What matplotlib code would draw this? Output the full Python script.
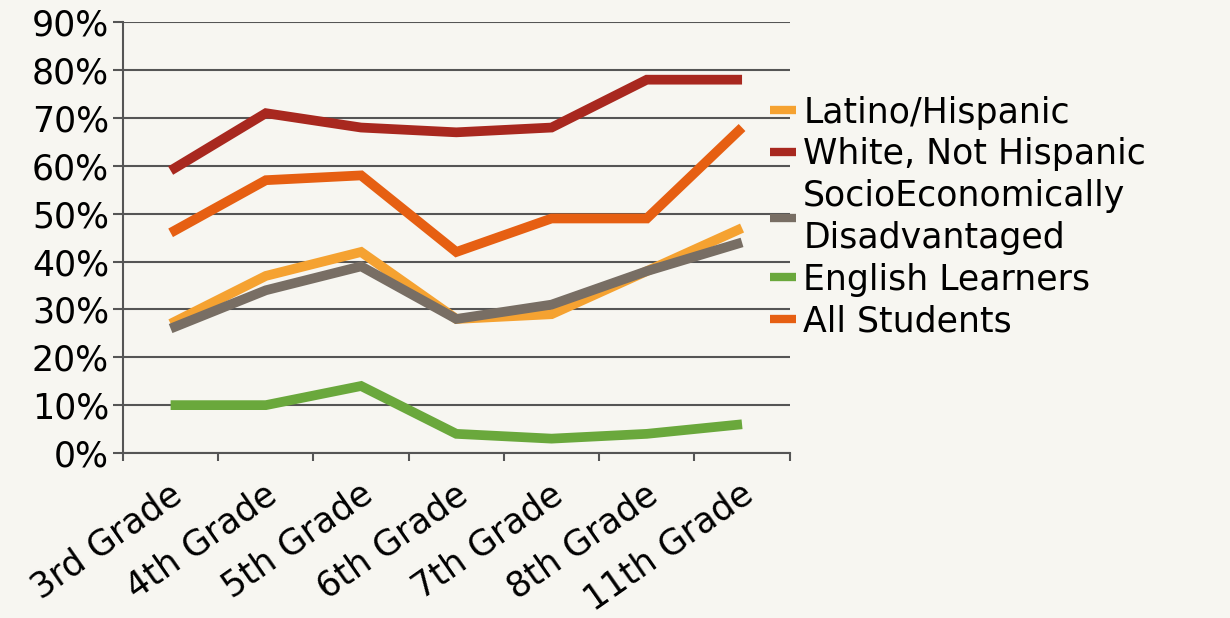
import numpy as np
import matplotlib
matplotlib.use('Agg')
import matplotlib.pyplot as plt
import matplotlib.transforms as mtransforms
from matplotlib.ticker import FixedLocator, PercentFormatter

grades = ['3rd Grade', '4th Grade', '5th Grade', '6th Grade', '7th Grade', '8th Grade', '11th Grade']

latino = [27, 37, 42, 28, 29, 38, 47]
white = [59, 71, 68, 67, 68, 78, 78]
socio = [26, 34, 39, 28, 31, 38, 44]
english = [10, 10, 14, 4, 3, 4, 6]
all_students = [46, 57, 58, 42, 49, 49, 68]

labels = ['Latino/Hispanic', 'White, Not Hispanic', 'SocioEconomically\nDisadvantaged',
          'English Learners', 'All Students']
colors = ['#f5a231', '#a8281f', '#786e64', '#6aa83c', '#e65f12']

bg = '#f7f6f1'
grid_col = '#555555'
plt.rcParams['font.family'] = ['DejaVu Sans']

fig = plt.figure(figsize=(12.3, 6.18), dpi=100)
fig.patch.set_facecolor(bg)
ax = fig.add_axes([0.1, 0.267, 0.542, 0.697])
ax.set_facecolor(bg)

x = np.arange(len(grades))
for vals, lab, col in zip([latino, white, socio, english, all_students], labels, colors):
    ax.plot(x, vals, color=col, lw=7, label=lab, solid_joinstyle='miter', solid_capstyle='butt', zorder=3)

ax.set_xlim(-0.5, len(grades) - 0.5)
ax.set_ylim(0, 90)
ax.set_yticks(np.arange(0, 91, 10))
ax.yaxis.set_major_formatter(PercentFormatter(decimals=0))
ax.grid(axis='y', color=grid_col, lw=1.5, zorder=1)

for s in ['top', 'right']:
    ax.spines[s].set_visible(False)
for s in ['left', 'bottom']:
    ax.spines[s].set_color(grid_col)
    ax.spines[s].set_linewidth(1.5)

# category labels sit at the centres, tick marks between categories
ax.set_xticks(x)
ax.set_xticklabels(grades, rotation=35, ha='right', rotation_mode='anchor')
ax.xaxis.set_minor_locator(FixedLocator(np.arange(-0.5, len(grades), 1)))
ax.tick_params(axis='x', which='major', length=0, pad=20, labelsize=25)
ax.tick_params(axis='x', which='minor', length=6, width=1.5, color=grid_col)
ax.tick_params(axis='y', length=7, width=1.5, color=grid_col, labelsize=25, pad=3)
shift = mtransforms.ScaledTranslation(-2 / 100, 4 / 100, fig.dpi_scale_trans)
for t in ax.get_xticklabels():
    t.set_transform(t.get_transform() + shift)

leg = ax.legend(loc='upper left', bbox_to_anchor=(0.95, 0.862), frameon=False, fontsize=25,
                handlelength=0.75, handletextpad=0.2, labelspacing=0.22, borderaxespad=0)
for h in leg.get_lines():
    h.set_linewidth(6)
leg.get_texts()[2].set_linespacing(1.3)

fig.savefig('out.png', dpi=100, facecolor=bg)
